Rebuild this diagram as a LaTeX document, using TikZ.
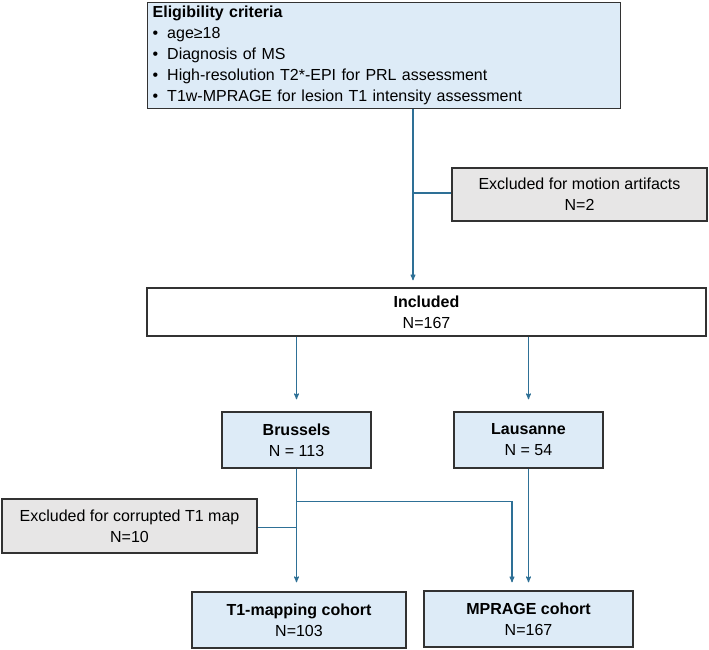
\documentclass[tikz,border=0pt]{standalone}
\usepackage{fontspec}
\setmainfont{Liberation Sans}
\usetikzlibrary{arrows}
\usepackage{xcolor}
\definecolor{boxblue}{RGB}{221,235,247}
\definecolor{boxgray}{RGB}{231,230,230}
\definecolor{linkblue}{RGB}{46,112,150}
\definecolor{edgegray}{RGB}{50,50,50}

\begin{document}
\begin{tikzpicture}[x=1pt,y=-1pt,>=stealth',
			every node/.style={font=\fontsize{16}{21}\selectfont},
			box/.style={draw=edgegray,line width=1.3pt,align=center,inner sep=0pt},
			cohort/.style={box,fill=boxblue},
			excl node/.style={box,fill=boxgray},
			link/.style={draw=linkblue,line width=1.1pt}]
			
			\useasboundingbox (0,0) rectangle (709,650);
			
			\node[cohort,anchor=north west,minimum width=473pt,minimum height=106pt,text width=463pt,inner xsep=5pt,align=left] (elig) at (147,2) {\textbf{Eligibility criteria}\\
				\textbullet\hspace{9pt}age≥18\\
				\textbullet\hspace{9pt}Diagnosis of MS\\
				\textbullet\hspace{9pt}High-resolution T2*-EPI for PRL assessment\\
				\textbullet\hspace{9pt}T1w-MPRAGE for lesion T1 intensity assessment};
			\node[excl node,minimum width=255pt,minimum height=53pt] (motion) at (579.5,194.5) {Excluded for motion artifacts\\N=2};
			\node[box,fill=white,minimum width=559pt,minimum height=48pt] (incl) at (426.5,312) {\textbf{Included}\\N=167};
			\node[cohort,minimum width=149pt,minimum height=56pt] (bru) at (296.5,440) {\textbf{Brussels}\\N = 113};
			\node[cohort,minimum width=149pt,minimum height=56pt] (lau) at (528.5,440) {\textbf{Lausanne}\\N = 54};
			\node[excl node,minimum width=255pt,minimum height=54pt] (corrupt) at (129.5,526) {Excluded for corrupted T1 map\\N=10};
			\node[cohort,minimum width=214pt,minimum height=56pt] (t1map) at (299,620) {\textbf{T1-mapping cohort}\\N=103};
			\node[cohort,minimum width=209pt,minimum height=56pt] (mprage) at (528.5,619) {\textbf{MPRAGE cohort}\\N=167};
			
			\coordinate (trunk) at (413,193);
			\path (bru.south) ++(0,33) coordinate (fork);
			\path (bru.south) ++(0,59) coordinate (tap);
			\coordinate (mprin) at (512,0);
			
			\draw[link,->,shorten >=7pt] (trunk |- elig.south) -- (trunk |- incl.north);
			\draw[link] (trunk) -- (trunk -| motion.west);
			\draw[link,->,shorten >=12pt] (bru |- incl.south) -- (bru.north);
			\draw[link,->,shorten >=12pt] (lau |- incl.south) -- (lau.north);
			\draw[link,->,shorten >=9pt] (bru.south) -- (bru.south |- t1map.north);
			\draw[link] (tap) -- (tap -| corrupt.east);
			\draw[link,->,shorten >=8pt] (fork) -| (mprin |- mprage.north);
			\draw[link,->,shorten >=8pt] (lau.south) -- (lau.south |- mprage.north);
\end{tikzpicture}
\end{document}
